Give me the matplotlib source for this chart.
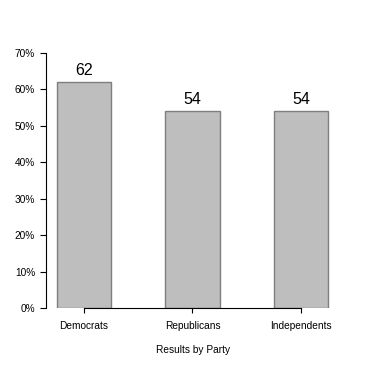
import matplotlib
matplotlib.use("Agg")
from matplotlib import pyplot as plt

parties = ["Democrats", "Republicans", "Independents"]
values = [62, 54, 54]
yticks = [0, 10, 20, 30, 40, 50, 60, 70]

plt.rcParams['font.family'] = ['Liberation Sans', 'DejaVu Sans']

fig = plt.figure(figsize=(3.83, 3.74), dpi=100)
ax = fig.add_axes([46/383, 66/374, 294/383, 255/374])

xs = range(len(parties))
ax.bar(xs, values, width=0.5, color="#bebebe", edgecolor="#7f7f7f", linewidth=1)
for x, v in zip(xs, values):
    ax.text(x, v + 1.2, str(v), ha="center", va="bottom", fontsize=11.5)

ax.set_xlim(-0.35, 2.36)
ax.set_ylim(0, 70)
for s in ["top", "right"]:
    ax.spines[s].set_visible(False)
ax.spines["left"].set_bounds(0, 70)
ax.spines["bottom"].set_bounds(0, 2)
ax.set_yticks(yticks)
ax.set_yticklabels(["{}%".format(t) for t in yticks], fontsize=7.3)
ax.set_xticks(list(xs))
ax.set_xticklabels(parties, fontsize=7.3)
ax.tick_params(axis="y", length=4.3, pad=3.5)
ax.tick_params(axis="x", length=3.6, pad=5.5)
ax.set_xlabel("Results by Party", fontsize=7.3, labelpad=10)

fig.savefig("out.png", dpi=100)
